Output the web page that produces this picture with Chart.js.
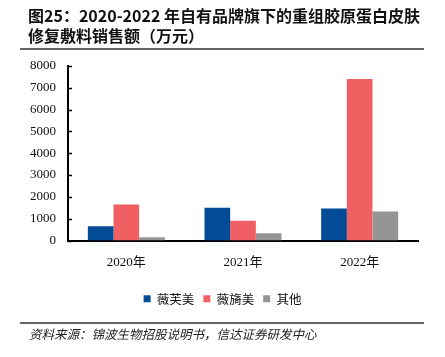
<!DOCTYPE html>
<html><head><meta charset="utf-8">
<script src="https://cdn.jsdelivr.net/npm/chart.js@4"></script>
<style>
html,body{margin:0;padding:0;background:#fff;}
#wrap{position:relative;width:445px;height:357px;overflow:hidden;}
#title{position:absolute;left:28px;top:5px;font-family:'Noto Sans CJK SC',sans-serif;font-weight:bold;font-size:16px;line-height:20px;color:#111;letter-spacing:0;white-space:nowrap;}
.rule{position:absolute;left:20px;width:404px;height:2px;background:#666;}
#src{position:absolute;left:29px;top:324px;font-family:'Noto Sans CJK SC',sans-serif;font-style:italic;font-size:12.5px;color:#222;white-space:nowrap;}
canvas{position:absolute;left:0;top:0;}
</style></head>
<body><div id="wrap">
<canvas id="c" width="445" height="357"></canvas>
<div id="title">图25：2020-2022 年自有品牌旗下的重组胶原蛋白皮肤<br>修复敷料销售额（万元）</div>
<div class="rule" style="top:48px"></div>
<div class="rule" style="top:322px"></div>
<div id="src">资料来源：锦波生物招股说明书，信达证券研发中心</div>
</div>
<script>
const categories = ['2020年','2021年','2022年'];
const weifumei = [650, 1500, 1470];
const weiyimei = [1650, 900, 7400];
const others = [150, 330, 1330];
const yTicks = [0,1000,2000,3000,4000,5000,6000,7000,8000];

const innerTicks = {
  id:'innerTicks',
  afterDraw(chart){
    const y = chart.scales.y, ctx = chart.ctx;
    ctx.save();
    ctx.strokeStyle='#000'; ctx.lineWidth=1.5;
    y.ticks.forEach((t,i)=>{
      const py = Math.round(y.getPixelForTick(i))+0.5;
      ctx.beginPath(); ctx.moveTo(y.right, py); ctx.lineTo(y.right+4, py); ctx.stroke();
    });
    ctx.restore();
  }
};

new Chart(document.getElementById('c'),{
  type:'bar',
  data:{labels:categories,datasets:[
    {label:'薇芙美',data:weifumei,backgroundColor:'#024C96'},
    {label:'薇旖美',data:weiyimei,backgroundColor:'#F06062'},
    {label:'其他',data:others,backgroundColor:'#959595'}
  ]},
  options:{
    responsive:false,animation:false,
    layout:{padding:{top:66,left:27,right:27,bottom:42}},
    datasets:{bar:{categoryPercentage:0.66,barPercentage:1}},
    plugins:{
      legend:{position:'bottom',labels:{boxWidth:7,boxHeight:7,padding:9,color:'#111',font:{family:"'Noto Sans CJK SC',sans-serif",size:12.5}}},
      tooltip:{enabled:false},title:{display:false}
    },
    scales:{
      x:{
        grid:{display:false,drawTicks:false},
        border:{display:true,color:'#000',width:2},
        ticks:{color:'#111',padding:14,font:{family:"'Liberation Serif','Noto Sans CJK SC',serif",size:13}},
        afterFit(s){s.height=43;}
      },
      y:{
        min:0,max:8000,
        afterBuildTicks(s){s.ticks=yTicks.map(v=>({value:v}));},
        grid:{display:false,drawTicks:false},
        border:{display:true,color:'#000',width:2},
        ticks:{color:'#111',padding:12,font:{family:"'Liberation Serif',serif",size:13},callback:(v)=>String(v)},
        afterFit(s){s.width=41;}
      }
    }
  },
  plugins:[innerTicks]
});
</script>
</body></html>
